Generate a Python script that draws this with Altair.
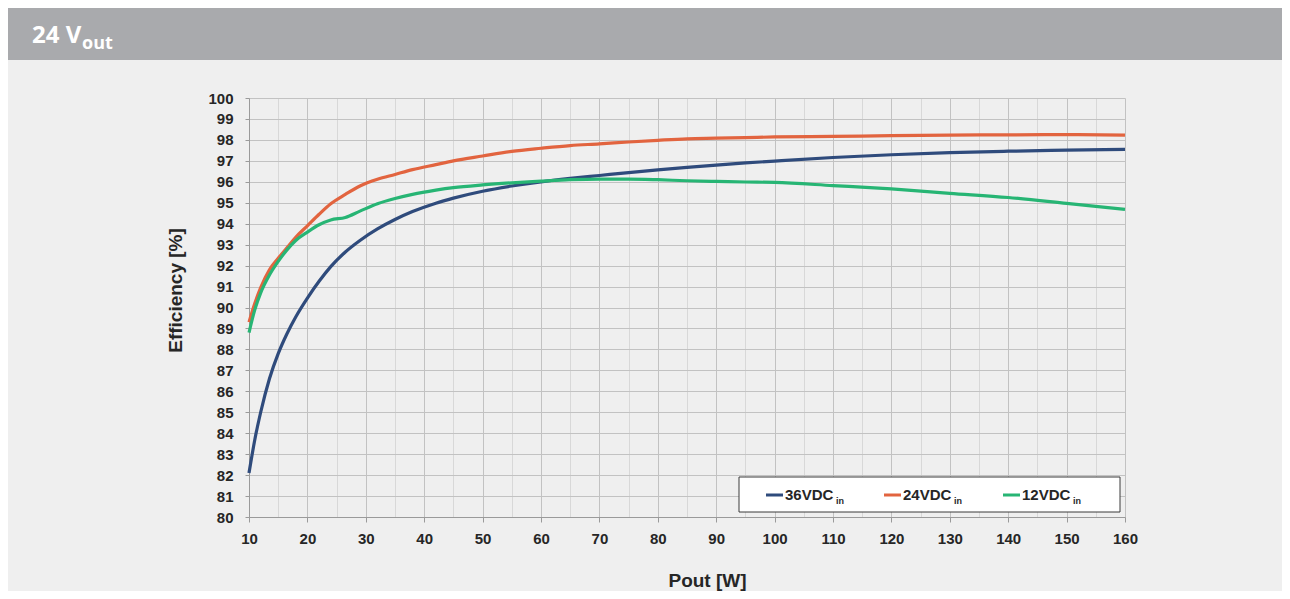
import altair as alt
import pandas as pd

# ---- data ----
pout = [10, 11, 12, 13.5, 15, 16.5, 18, 20, 22, 24, 26.5, 29, 32, 35, 38, 42, 45, 50,
        55, 60, 65, 70, 75, 80, 85, 90, 95, 100, 110, 120, 130, 140, 150, 160]
eff_36 = [82.1, 83.7, 85.0, 86.6, 87.8, 88.75, 89.55, 90.45, 91.25, 91.95, 92.65, 93.2, 93.75, 94.2, 94.58, 94.98, 95.22, 95.55,
          95.8, 96.0, 96.16, 96.3, 96.44, 96.57, 96.69, 96.8, 96.9, 96.99, 97.16, 97.29, 97.39, 97.46, 97.51, 97.55]
eff_24 = [89.3, 90.2, 90.95, 91.8, 92.35, 92.85, 93.35, 93.9, 94.45, 94.95, 95.4, 95.8, 96.12, 96.35, 96.58, 96.82, 97.0, 97.23,
          97.45, 97.6, 97.73, 97.81, 97.9, 97.98, 98.05, 98.08, 98.11, 98.14, 98.17, 98.2, 98.23, 98.24, 98.25, 98.23]
eff_12 = [88.8, 89.9, 90.7, 91.55, 92.2, 92.75, 93.2, 93.6, 93.95, 94.18, 94.3, 94.6, 94.95, 95.2, 95.4, 95.6, 95.72, 95.85,
          95.95, 96.03, 96.1, 96.13, 96.13, 96.1, 96.05, 96.02, 95.99, 95.97, 95.82, 95.66, 95.45, 95.25, 94.97, 94.68]

series_names = ["36VDC", "24VDC", "12VDC"]
series_colors = ["#2f4b7c", "#e2643f", "#27b574"]
series_values = [eff_36, eff_24, eff_12]

title_main = "24 V"
title_sub = "out"
legend_sub = "in"
x_title = "Pout [W]"
y_title = "Efficiency [%]"

rows = []
for name, vals in zip(series_names, series_values):
    for p, v in zip(pout, vals):
        rows.append({"Pout": p, "Eff": v, "series": name})
df = pd.DataFrame(rows)

W, H = 876, 419
PAD = {"left": 241, "top": 90, "right": 157, "bottom": 74}
FONT = "Liberation Sans"
TXT = "#262626"

color_scale = alt.Scale(domain=series_names, range=series_colors)

x_axis = alt.Axis(
    values=list(range(10, 161, 5)),
    labelExpr="datum.value % 10 == 0 ? datum.label : ''",
    labelOverlap=False, labelFlush=False,
    gridColor={"condition": {"test": "datum.value % 10 == 0", "value": "#c2c2c2"}, "value": "#d8d8d8"},
    tickOpacity={"condition": {"test": "datum.value % 10 == 0", "value": 1}, "value": 0},
    tickColor="#9a9a9a", tickSize=5, domainColor="#9a9a9a",
    labelFont=FONT, labelFontSize=15, labelFontWeight="bold", labelColor=TXT, labelPadding=9,
    titleFont=FONT, titleFontSize=19, titleFontWeight="bold", titleColor=TXT, titlePadding=25,
    titleX=458,
)
y_axis = alt.Axis(
    values=[80 + 0.5 * i for i in range(41)],
    format="d",
    labelExpr="datum.value % 1 == 0 ? datum.label : ''",
    labelOverlap=False, labelFlush=False,
    gridColor={"condition": {"test": "datum.value % 1 == 0", "value": "#c2c2c2"}, "value": "#d8d8d8"},
    tickOpacity={"condition": {"test": "datum.value % 1 == 0", "value": 1}, "value": 0},
    tickColor="#9a9a9a", tickSize=4, domainColor="#9a9a9a",
    labelFont=FONT, labelFontSize=15, labelFontWeight="bold", labelColor=TXT, labelPadding=12,
    titleFont=FONT, titleFontSize=19, titleFontWeight="bold", titleColor=TXT, titlePadding=22,
    titleY=192,
)

one = pd.DataFrame({"k": [0]})

# header band and title
header = alt.Chart(one).mark_rect(color="#a9aaad").encode(
    x=alt.value(-PAD["left"]), x2=alt.value(W + PAD["right"]),
    y=alt.value(-PAD["top"]), y2=alt.value(-38))
head_t1 = alt.Chart(one).mark_text(text=title_main, font="Open Sans", fontSize=24, fontWeight="bold",
                                   color="white", align="left", baseline="alphabetic").encode(
    x=alt.value(-217), y=alt.value(-55))
head_t2 = alt.Chart(one).mark_text(text=title_sub, font="Open Sans", fontSize=18, fontWeight="bold",
                                   color="white", align="left", baseline="alphabetic").encode(
    x=alt.value(-167), y=alt.value(-49))

# lines, one layer per series so the drawing order matches (12VDC on top)
line_layers = []
for name in series_names:
    line_layers.append(
        alt.Chart(df).transform_filter(alt.datum.series == name).mark_line(
            strokeWidth=3.2, interpolate="monotone").encode(
            x=alt.X("Pout:Q", scale=alt.Scale(domain=[10, 160], nice=False, zero=False), axis=x_axis, title=x_title),
            y=alt.Y("Eff:Q", scale=alt.Scale(domain=[80, 100], nice=False, zero=False), axis=y_axis, title=y_title),
            color=alt.Color("series:N", scale=color_scale, legend=None),
        )
    )

# legend box with subscripted labels
legend_layers = [alt.Chart(one).mark_rect(fill="white", stroke="#3a3a3a", strokeWidth=1).encode(
    x=alt.value(490), x2=alt.value(871), y=alt.value(379), y2=alt.value(414))]
sw_x = [517, 635, 754]
for name, col, sx in zip(series_names, series_colors, sw_x):
    legend_layers.append(alt.Chart(one).mark_rule(color=col, strokeWidth=3).encode(
        x=alt.value(sx), x2=alt.value(sx + 17), y=alt.value(397)))
    legend_layers.append(alt.Chart(one).mark_text(text=name, font=FONT, fontSize=15, fontWeight="bold",
                                                  color=TXT, align="left", baseline="alphabetic").encode(
        x=alt.value(sx + 19), y=alt.value(402)))
    legend_layers.append(alt.Chart(one).mark_text(text=legend_sub, font=FONT, fontSize=9, fontWeight="bold",
                                                  color=TXT, align="left", baseline="alphabetic").encode(
        x=alt.value(sx + 70), y=alt.value(406)))

chart = alt.layer(header, head_t1, head_t2, *line_layers, *legend_layers).properties(
    width=W, height=H, background="#efefef", padding=PAD,
    autosize=alt.AutoSizeParams(type="none"),
).configure_view(stroke=None)

chart.save("out.html", embed_options={"renderer": "svg", "actions": False})
